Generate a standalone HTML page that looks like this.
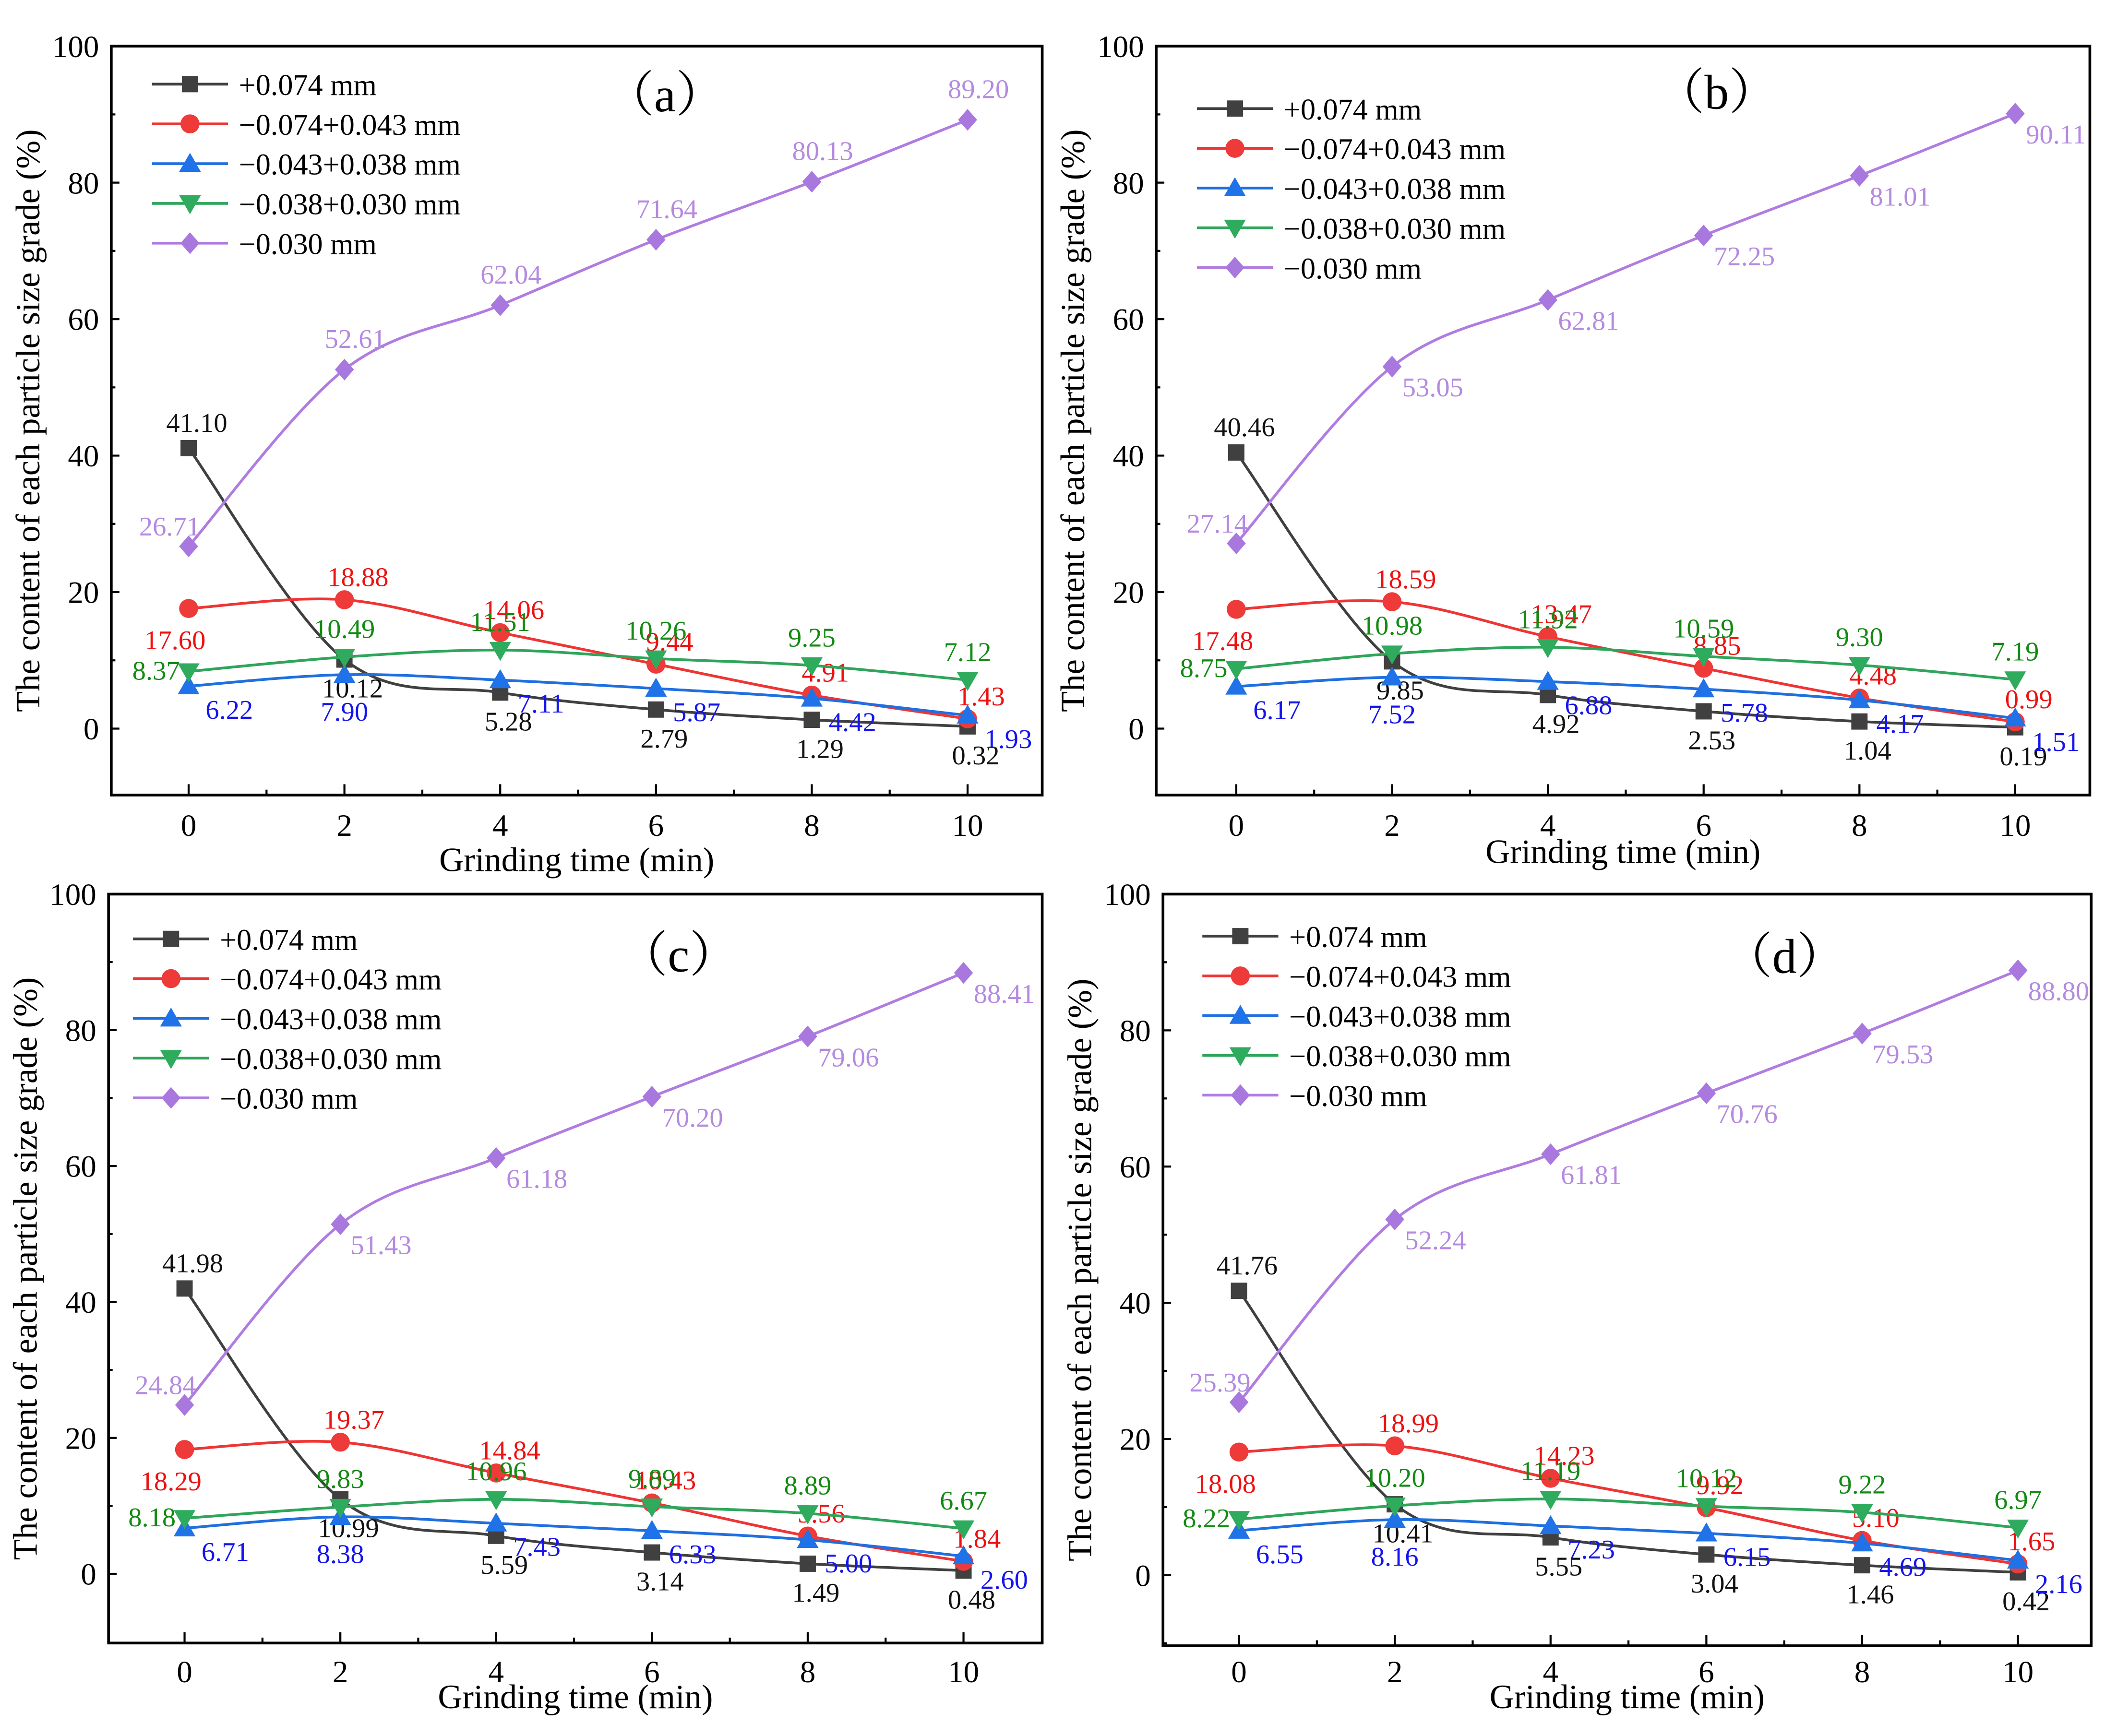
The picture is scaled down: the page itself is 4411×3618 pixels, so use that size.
<!DOCTYPE html>
<html><head><meta charset="utf-8">
<style>
html,body{margin:0;padding:0;background:#fff;}
svg{display:block;font-family:"Liberation Serif",serif;}
</style></head>
<body>
<svg id="chart" width="4411" height="3618" viewBox="0 0 1560 1279.5" xmlns="http://www.w3.org/2000/svg"></svg>
<script>
const xCategories = [0, 2, 4, 6, 8, 10];
const seriesNames = ["+0.074 mm", "\u22120.074+0.043 mm", "\u22120.043+0.038 mm", "\u22120.038+0.030 mm", "\u22120.030 mm"];
const yTicks = [0, 20, 40, 60, 80, 100];
const xTicks = [0, 2, 4, 6, 8, 10];
const panelA_coarse = [41.10, 10.12, 5.28, 2.79, 1.29, 0.32];
const panelA_r1 = [17.60, 18.88, 14.06, 9.44, 4.91, 1.43];
const panelA_r2 = [6.22, 7.90, 7.11, 5.87, 4.42, 1.93];
const panelA_r3 = [8.37, 10.49, 11.51, 10.26, 9.25, 7.12];
const panelA_fine = [26.71, 52.61, 62.04, 71.64, 80.13, 89.20];
const panelB_coarse = [40.46, 9.85, 4.92, 2.53, 1.04, 0.19];
const panelB_r1 = [17.48, 18.59, 13.47, 8.85, 4.48, 0.99];
const panelB_r2 = [6.17, 7.52, 6.88, 5.78, 4.17, 1.51];
const panelB_r3 = [8.75, 10.98, 11.92, 10.59, 9.30, 7.19];
const panelB_fine = [27.14, 53.05, 62.81, 72.25, 81.01, 90.11];
const panelC_coarse = [41.98, 10.99, 5.59, 3.14, 1.49, 0.48];
const panelC_r1 = [18.29, 19.37, 14.84, 10.43, 5.56, 1.84];
const panelC_r2 = [6.71, 8.38, 7.43, 6.33, 5.00, 2.60];
const panelC_r3 = [8.18, 9.83, 10.96, 9.89, 8.89, 6.67];
const panelC_fine = [24.84, 51.43, 61.18, 70.20, 79.06, 88.41];
const panelD_coarse = [41.76, 10.41, 5.55, 3.04, 1.46, 0.42];
const panelD_r1 = [18.08, 18.99, 14.23, 9.92, 5.10, 1.65];
const panelD_r2 = [6.55, 8.16, 7.23, 6.15, 4.69, 2.16];
const panelD_r3 = [8.22, 10.20, 11.19, 10.12, 9.22, 6.97];
const panelD_fine = [25.39, 52.24, 61.81, 70.76, 79.53, 88.80];

const NS = "http://www.w3.org/2000/svg";
const svg = document.getElementById("chart");
function mk(tag, attrs, parent) {
  const e = document.createElementNS(NS, tag);
  for (const k in attrs) e.setAttribute(k, attrs[k]);
  (parent || svg).appendChild(e);
  return e;
}
const lineColors = ["#404040", "#ef3434", "#1f6fe0", "#2ea55a", "#b07ce0"];
const markColors = ["#404040", "#ef3a3a", "#1f72e8", "#2fab5e", "#a878de"];
const labelColors = ["#111111", "#ee1111", "#1414ee", "#138a13", "#b48ae0"];

const panels = [
  {id:"a", L:82, R:768, T:34, B:586, y0:537, y100:34, x0:139, x10:713, tickY:616, titleY:642, title:"Grinding time (min)", tag:"\uff08a\uff09", tagX:490, tagY:82,
   legY:62, legX:112, data:[panelA_coarse,panelA_r1,panelA_r2,panelA_r3,panelA_fine], purpleAbove:true},
  {id:"b", L:852, R:1540, T:34, B:586, y0:537, y100:34, x0:911, x10:1485, tickY:616, titleY:636, title:"Grinding time (min)", tag:"\uff08b\uff09", tagX:1265, tagY:80,
   legY:80, legX:882, data:[panelB_coarse,panelB_r1,panelB_r2,panelB_r3,panelB_fine], purpleAbove:false},
  {id:"c", L:80, R:768, T:659, B:1211, y0:1160, y100:659, x0:136, x10:710, tickY:1240, titleY:1259, title:"Grinding time (min)", tag:"\uff08c\uff09", tagX:500, tagY:716,
   legY:692, legX:98, data:[panelC_coarse,panelC_r1,panelC_r2,panelC_r3,panelC_fine], purpleAbove:false},
  {id:"d", L:857, R:1541, T:659, B:1213, y0:1161, y100:659, x0:913, x10:1487, tickY:1240, titleY:1259, title:"Grinding time (min)", tag:"\uff08d\uff09", tagX:1315, tagY:717,
   legY:690, legX:886, data:[panelD_coarse,panelD_r1,panelD_r2,panelD_r3,panelD_fine], purpleAbove:false}
];

function marker(g, s, x, y) {
  const c = markColors[s]; let e;
  if (s === 0) e = mk("rect", {x:x-6, y:y-6, width:12, height:12, fill:c}, g);
  else if (s === 1) e = mk("circle", {cx:x, cy:y, r:7, fill:c}, g);
  else if (s === 2) e = mk("polygon", {points:`${x},${y-8} ${x+8},${y+6} ${x-8},${y+6}`, fill:c}, g);
  else if (s === 3) e = mk("polygon", {points:`${x},${y+8} ${x+8},${y-6} ${x-8},${y-6}`, fill:c}, g);
  else e = mk("polygon", {points:`${x},${y-8} ${x+7},${y} ${x},${y+8} ${x-7},${y}`, fill:c}, g);
  return e;
}
function smoothPath(pts) {
  let d = `M${pts[0][0]},${pts[0][1]}`;
  for (let i = 0; i < pts.length - 1; i++) {
    const p0 = pts[Math.max(0, i-1)], p1 = pts[i], p2 = pts[i+1], p3 = pts[Math.min(pts.length-1, i+2)];
    const c1 = [p1[0] + (p2[0]-p0[0])/6, p1[1] + (p2[1]-p0[1])/6];
    const c2 = [p2[0] - (p3[0]-p1[0])/6, p2[1] - (p3[1]-p1[1])/6];
    d += ` C${c1[0]},${c1[1]} ${c2[0]},${c2[1]} ${p2[0]},${p2[1]}`;
  }
  return d;
}

panels.forEach(P => {
  const g = mk("g", {});
  
  
  const xs = v => P.x0 + (P.x10 - P.x0) * v / 10;
  const ys = v => P.y0 + (P.y100 - P.y0) * v / 100;
  const frame = mk("rect", {x:P.L, y:P.T, width:P.R-P.L, height:P.B-P.T, fill:"none", stroke:"#000", "stroke-width":2}, g);
  
  
  for (let v = -10; v <= 100; v += 10) {
    const y = ys(v);
    if (y > P.B - 1) continue;
    mk("line", {x1:P.L, x2:P.L + (v % 20 === 0 ? 6 : 3), y1:y, y2:y, stroke:"#000", "stroke-width":1.5}, g);
  }
  yTicks.forEach(v => {
    const t = mk("text", {x:P.L-9, y:ys(v)+8, "text-anchor":"end", "font-size":23}, g);
    t.textContent = v;
    
    
  });
  for (let v = 0; v <= 10; v += 1) {
    const x = xs(v);
    mk("line", {x1:x, x2:x, y1:P.B, y2:P.B - (v % 2 === 0 ? 8 : 4), stroke:"#000", "stroke-width":1.5}, g);
  }
  xTicks.forEach(v => {
    const t = mk("text", {x:xs(v), y:P.tickY, "text-anchor":"middle", "font-size":23}, g);
    t.textContent = v;
    
    
  });
  const xt = mk("text", {x:(P.L+P.R)/2, y:P.titleY, "text-anchor":"middle", "font-size":25}, g);
  xt.textContent = P.title;
  
  
  const yc = (P.T + P.B) / 2;
  const yt = mk("text", {x:P.L-53, y:yc, "text-anchor":"middle", "font-size":25, transform:`rotate(-90 ${P.L-53} ${yc})`}, g);
  yt.textContent = "The content of each particle size grade (%)";
  
  
  const tg = mk("text", {x:P.tagX, y:P.tagY, "text-anchor":"middle", "font-size":36, "font-family":"Liberation Serif, Noto Serif CJK SC, serif"}, g);
  tg.textContent = P.tag;
  
  
  P.data.forEach((vals, s) => {
    const sg = mk("g", {}, g);
    
    
    const pts = vals.map((v, i) => [xs(xCategories[i]), ys(v)]);
    const path = mk("path", {d:smoothPath(pts), fill:"none", stroke:lineColors[s], "stroke-width":2}, sg);
    
    
    pts.forEach((p, i) => {
      const m = marker(sg, s, p[0], p[1]);
      
      
      let dx = 0, dy = 0;
      if (s === 0) { dx = 6; dy = i === 0 ? -12 : 28; }
      else if (s === 1) { dx = i === 0 ? -10 : 10; dy = i === 0 ? 30 : -10; }
      else if (s === 2) { dx = 30; dy = 24; if (i === 1) { dx = 0; dy = 34; } }
      else if (s === 3) { dx = i === 0 ? -24 : 0; dy = -14; if (i === 0) dy = 6; }
      else { if (P.purpleAbove) { dx = 8; dy = -16; } else { dx = 30; dy = 22; } if (i === 0) { dx = -14; dy = -8; } }
      const t = mk("text", {x:p[0]+dx, y:p[1]+dy, "text-anchor":"middle", "font-size":20, fill:labelColors[s]}, sg);
      t.textContent = vals[i].toFixed(2);
      
      
    });
  });
  const lg = mk("g", {}, g);
  
  
  seriesNames.forEach((n, s) => {
    const y = P.legY + s * 29.3;
    const e = mk("g", {}, lg);
    
    
    mk("line", {x1:P.legX, x2:P.legX+56, y1:y, y2:y, stroke:lineColors[s], "stroke-width":2}, e);
    marker(e, s, P.legX+28, y);
    const t = mk("text", {x:P.legX+64, y:y+8, "font-size":22}, e);
    t.textContent = n;
  });
});
</script>
</body></html>
